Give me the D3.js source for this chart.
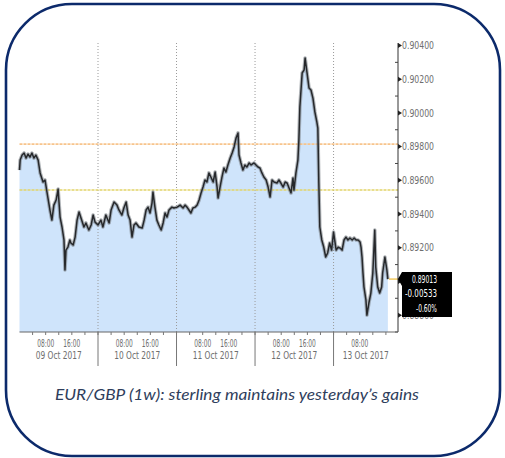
<!DOCTYPE html>
<html>
<head>
<meta charset="utf-8">
<script src="https://cdn.jsdelivr.net/npm/d3@7/dist/d3.min.js"></script>
<style>
  body { margin: 0; background: #fff; }
  .tick-lbl { font-family: "DejaVu Sans Condensed", "DejaVu Sans", sans-serif; font-stretch: condensed; font-size: 10.5px; fill: #6e6e6e; }
</style>
</head>
<body>
<svg width="505" height="458"></svg>
<script>
// hours since 09 Oct 2017 00:00
var hours = [0, 0.2, 0.8, 1.4, 2.0, 2.6, 3.2, 3.8, 4.4, 5.0, 5.7, 6.3, 7.2, 7.8, 8.4, 9.3, 9.9, 10.5, 11.2, 11.8,
  12.4, 13.0, 13.6, 13.9, 14.2, 14.8, 15.4, 15.7, 16.4, 17.0, 17.6, 18.2, 18.8, 19.7, 20.3, 21.2, 21.9, 22.5, 23.1, 24.0,
  24.9, 25.5, 26.4, 27.4, 28.0, 28.9, 29.8, 30.4, 31.3, 31.9, 32.6, 33.2, 33.8, 34.4, 35.0, 35.6, 36.5, 37.5, 38.1, 38.7,
  39.3, 39.9, 40.5, 40.8, 41.4, 42.0, 42.6, 43.3, 43.9, 44.5, 45.1, 45.7, 46.6, 47.2, 48.2, 49.1, 50.0, 50.6, 51.2, 51.8,
  52.4, 53.0, 53.7, 54.3, 54.9, 55.5, 56.1, 56.7, 57.3, 57.9, 58.5, 59.2, 59.8, 60.4, 60.7, 61.3, 61.9, 62.5, 63.1, 63.7,
  64.4, 65.0, 65.6, 66.2, 66.8, 67.1, 67.7, 68.3, 68.9, 69.5, 70.2, 70.8, 71.7, 72.3, 72.9, 73.5, 74.1, 74.7, 75.4, 76.0,
  76.6, 77.2, 77.8, 78.7, 79.3, 79.9, 80.6, 81.2, 81.8, 82.4, 83.0, 83.6, 83.9, 84.5, 85.1, 85.4, 85.7, 86.4, 87.0, 87.3,
  87.9, 88.5, 89.1, 89.7, 90.3, 90.9, 91.2, 91.5, 91.8, 92.4, 93.0, 93.6, 94.2, 94.8, 95.4, 96.0, 96.8, 97.4, 98.0, 98.6,
  99.2, 99.8, 100.4, 101.0, 101.7, 102.3, 102.9, 103.5, 104.1, 104.4, 104.7, 105.0, 105.3, 105.9, 106.2, 106.8, 107.4, 108.0, 108.6, 108.9,
  109.5, 110.1, 110.7, 111.0, 111.7, 112.3, 112.6];

var prices = [0.89661, 0.89720, 0.89750, 0.89762, 0.89732, 0.89756, 0.89738, 0.89762, 0.89732, 0.89750, 0.89720, 0.89644, 0.89590, 0.89602, 0.89530, 0.89424, 0.89364, 0.89453, 0.89483, 0.89548,
  0.89382, 0.89323, 0.89246, 0.89068, 0.89186, 0.89204, 0.89246, 0.89228, 0.89216, 0.89263, 0.89364, 0.89412, 0.89376, 0.89323, 0.89347, 0.89305, 0.89335, 0.89394, 0.89352, 0.89335,
  0.89364, 0.89323, 0.89394, 0.89347, 0.89424, 0.89471, 0.89453, 0.89424, 0.89394, 0.89436, 0.89471, 0.89394, 0.89364, 0.89263, 0.89335, 0.89347, 0.89323, 0.89317, 0.89364, 0.89424,
  0.89441, 0.89406, 0.89465, 0.89530, 0.89441, 0.89364, 0.89335, 0.89305, 0.89347, 0.89406, 0.89382, 0.89424, 0.89441, 0.89436, 0.89441, 0.89453, 0.89436, 0.89453, 0.89441, 0.89424,
  0.89406, 0.89436, 0.89441, 0.89453, 0.89483, 0.89525, 0.89560, 0.89602, 0.89590, 0.89644, 0.89620, 0.89590, 0.89649, 0.89560, 0.89495, 0.89560, 0.89620, 0.89673, 0.89649, 0.89691,
  0.89732, 0.89762, 0.89798, 0.89851, 0.89881, 0.89750, 0.89703, 0.89661, 0.89691, 0.89679, 0.89703, 0.89691, 0.89703, 0.89691, 0.89679, 0.89673, 0.89644, 0.89620, 0.89602, 0.89560,
  0.89501, 0.89602, 0.89590, 0.89584, 0.89602, 0.89584, 0.89560, 0.89590, 0.89584, 0.89554, 0.89525, 0.89614, 0.89542, 0.89644, 0.89720, 0.89839, 0.90035, 0.90237, 0.90255, 0.90326,
  0.90237, 0.90148, 0.90136, 0.90088, 0.90005, 0.89946, 0.89910, 0.89584, 0.89323, 0.89246, 0.89204, 0.89145, 0.89169, 0.89228, 0.89186, 0.89293, 0.89186, 0.89204, 0.89198, 0.89186,
  0.89246, 0.89263, 0.89246, 0.89258, 0.89246, 0.89258, 0.89246, 0.89246, 0.89234, 0.89204, 0.89145, 0.89050, 0.88967, 0.88890, 0.88800, 0.88872, 0.88931, 0.89050, 0.89305, 0.89085,
  0.88967, 0.88931, 0.88967, 0.89050, 0.89145, 0.89068, 0.89014];

// 0.890 sits under the last-value box, so it has no visible label
var yTicks = [0.888, 0.890, 0.892, 0.894, 0.896, 0.898, 0.900, 0.902, 0.904];
var yLabelTicks = [0.888, 0.892, 0.894, 0.896, 0.898, 0.900, 0.902, 0.904];
var days = ["09 Oct 2017", "10 Oct 2017", "11 Oct 2017", "12 Oct 2017", "13 Oct 2017"];
var hourLabels = ["08:00", "16:00"];
var levels = [0.89815, 0.89543];
var levelColors = ["#f7c48c", "#e2d46a"];
var lastBox = ["0.89013", "-0.00533", "-0.60%"];
var caption = "EUR/GBP (1w): sterling maintains yesterday\u2019s gains";

var svg = d3.select("svg");

var x = d3.scaleLinear().domain([0, 115.7]).range([19.5, 398]);
var y = d3.scaleLinear().domain([0.887, 0.904]).range([332, 45.5]);

var data = hours.map((h, i) => ({h: h, p: prices[i]}));

// frame
svg.append("rect")
    .attr("x", 6).attr("y", 4)
    .attr("width", 494).attr("height", 452)
    .attr("rx", 66).attr("ry", 66)
    .attr("fill", "none")
    .attr("stroke", "#0c2a6b")
    .attr("stroke-width", 2.6);

// area
svg.append("path")
    .datum(data)
    .attr("fill", "#cfe4fb")
    .attr("d", d3.area().x(d => x(d.h)).y0(y(0.887)).y1(d => y(d.p)));

// day dividers (dotted inside plot)
svg.append("g").selectAll("line")
    .data(d3.range(1, 5))
    .enter().append("line")
    .attr("x1", d => x(d * 24)).attr("x2", d => x(d * 24))
    .attr("y1", 43).attr("y2", y(0.887))
    .attr("stroke", "#9a9a9a")
    .attr("stroke-width", 1)
    .attr("stroke-dasharray", "1,2");

// horizontal levels
svg.append("g").selectAll("line")
    .data(levels)
    .enter().append("line")
    .attr("x1", x(0)).attr("x2", x(115.7))
    .attr("y1", d => y(d)).attr("y2", d => y(d))
    .attr("stroke", (d, i) => levelColors[i])
    .attr("stroke-width", 1.6)
    .attr("stroke-dasharray", "3,1");

var line = d3.line().x(d => x(d.h)).y(d => y(d.p));
svg.append("path")
    .datum(data)
    .attr("fill", "none")
    .attr("stroke", "#7d838b")
    .attr("stroke-width", 3.6)
    .attr("stroke-opacity", 0.6)
    .attr("stroke-linejoin", "round")
    .attr("d", line);
svg.append("path")
    .datum(data)
    .attr("fill", "none")
    .attr("stroke", "#26282b")
    .attr("stroke-width", 1.5)
    .attr("stroke-linejoin", "round")
    .attr("d", line);

// last price marker
var last = data[data.length - 1];
svg.append("line")
    .attr("x1", x(last.h) + 1).attr("x2", x(115.7))
    .attr("y1", y(last.p)).attr("y2", y(last.p))
    .attr("stroke", "#f0c860").attr("stroke-width", 1.5);

// right axis
var yAxisG = svg.append("g");
yAxisG.append("line")
    .attr("x1", 398).attr("x2", 398)
    .attr("y1", 43).attr("y2", y(0.887))
    .attr("stroke", "#333").attr("stroke-width", 1);
yAxisG.selectAll(".minor")
    .data(d3.range(0.887, 0.9041, 0.001).filter(v => Math.round(v * 1000) % 2 === 1))
    .enter().append("line")
    .attr("x1", 395).attr("x2", 398)
    .attr("y1", d => y(d)).attr("y2", d => y(d))
    .attr("stroke", "#444");
yAxisG.selectAll(".major")
    .data(yTicks)
    .enter().append("path")
    .attr("d", d => "M398," + (y(d) - 2.5) + "L402," + y(d) + "L398," + (y(d) + 2.5) + "Z")
    .attr("fill", "#222");
yAxisG.selectAll("text")
    .data(yLabelTicks)
    .enter().append("text")
    .attr("class", "tick-lbl")
    .attr("x", 402)
    .attr("y", d => y(d))
    .attr("dy", "0.35em")
    .attr("textLength", 32)
    .attr("lengthAdjust", "spacingAndGlyphs")
    .text(d => d.toFixed(5));

// bottom axis
var xAxisG = svg.append("g");
xAxisG.append("line")
    .attr("x1", x(0)).attr("x2", 398)
    .attr("y1", y(0.887)).attr("y2", y(0.887))
    .attr("stroke", "#666");
xAxisG.selectAll(".xt")
    .data(d3.range(4, 115, 4))
    .enter().append("line")
    .attr("x1", d => x(d)).attr("x2", d => x(d))
    .attr("y1", y(0.887)).attr("y2", y(0.887) + 3)
    .attr("stroke", "#777");
xAxisG.selectAll(".sep")
    .data(d3.range(1, 5))
    .enter().append("line")
    .attr("x1", d => x(d * 24)).attr("x2", d => x(d * 24))
    .attr("y1", y(0.887)).attr("y2", 366)
    .attr("stroke", "#777");

days.forEach(function(day, i) {
    var h0 = i * 24;
    var h1 = Math.min(h0 + 24, 115.7);
    svg.append("text")
        .attr("class", "tick-lbl")
        .attr("x", (x(h0) + x(h1)) / 2 - 23)
        .attr("y", 359)
        .attr("textLength", 46)
        .attr("lengthAdjust", "spacingAndGlyphs")
        .text(day);
    hourLabels.forEach(function(lbl, j) {
        var hh = h0 + (j + 1) * 8;
        if (hh > 110) return;
        svg.append("text")
            .attr("class", "tick-lbl")
            .attr("x", x(hh) - 8.5)
            .attr("y", 347)
            .attr("textLength", 17)
            .attr("lengthAdjust", "spacingAndGlyphs")
            .text(lbl);
    });
});

// last value box
var by = y(last.p);
svg.append("path")
    .attr("d", "M398," + by + "L402," + (by - 7) + "L452," + (by - 7) + "L452," + (by + 38) + "L402," + (by + 38) + "L402," + (by + 7) + "Z")
    .attr("fill", "#000");
var boxW = [25, 32, 21];
svg.append("g").selectAll("text")
    .data(lastBox)
    .enter().append("text")
    .attr("class", "tick-lbl")
    .style("fill", "#fff")
    .attr("x", (d, i) => 437 - boxW[i])
    .attr("y", (d, i) => by + 3.5 + i * 14.5)
    .attr("textLength", (d, i) => boxW[i])
    .attr("lengthAdjust", "spacingAndGlyphs")
    .text(d => d);

// caption
svg.append("text")
    .attr("x", 55).attr("y", 400)
    .attr("textLength", 364)
    .attr("lengthAdjust", "spacingAndGlyphs")
    .style("font-family", "Lato, 'Open Sans', sans-serif")
    .style("font-style", "italic")
    .style("font-size", "15px")
    .style("fill", "#2f3e5c")
    .text(caption);
</script>
</body>
</html>
